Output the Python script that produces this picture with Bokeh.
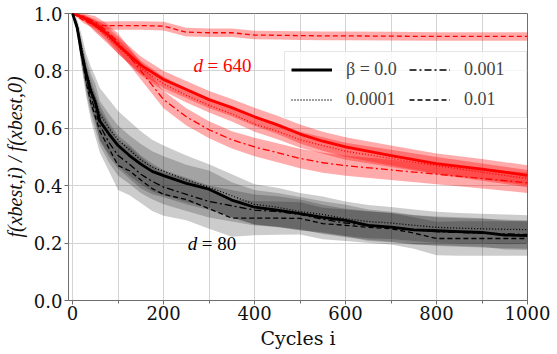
from bokeh.plotting import figure
from bokeh.models import Range1d, FixedTicker, PrintfTickFormatter, Legend, LegendItem, Label
from bokeh.embed import file_html
from bokeh.resources import INLINE

# ---------------- data ----------------
X_R = [0, 25, 50, 75, 100, 150, 200, 250, 300, 350, 400, 450, 500, 550, 600, 700, 800, 900, 1000]
R_SOLID = [1.0, 0.985, 0.96, 0.93, 0.89, 0.82, 0.77, 0.735, 0.70, 0.672, 0.64, 0.612, 0.58, 0.555, 0.535, 0.505, 0.477, 0.458, 0.436]
R_DOT = [1.0, 0.985, 0.955, 0.92, 0.885, 0.81, 0.755, 0.715, 0.68, 0.65, 0.615, 0.59, 0.56, 0.54, 0.52, 0.495, 0.47, 0.447, 0.425]
R_DASHDOT = [1.0, 0.99, 0.97, 0.94, 0.90, 0.80, 0.70, 0.64, 0.595, 0.56, 0.535, 0.515, 0.495, 0.48, 0.47, 0.455, 0.44, 0.425, 0.41]
R_DASH = [1.0, 0.975, 0.96, 0.958, 0.958, 0.958, 0.956, 0.935, 0.933, 0.933, 0.925, 0.924, 0.923, 0.922, 0.922, 0.921, 0.92, 0.92, 0.92]
R_SOLID_SD = [0.0, 0.01, 0.02, 0.025, 0.03, 0.03, 0.03, 0.03, 0.03, 0.03, 0.032, 0.032, 0.033, 0.033, 0.034, 0.035, 0.035, 0.035, 0.035]
R_DOT_SD = [0.0, 0.01, 0.02, 0.022, 0.025, 0.025, 0.025, 0.025, 0.025, 0.026, 0.027, 0.028, 0.028, 0.029, 0.03, 0.03, 0.03, 0.03, 0.03]
R_DASHDOT_SD = [0.0, 0.01, 0.02, 0.025, 0.03, 0.03, 0.03, 0.03, 0.03, 0.03, 0.032, 0.033, 0.034, 0.035, 0.035, 0.035, 0.035, 0.035, 0.035]
R_DASH_SD = [0.0, 0.01, 0.012, 0.014, 0.015, 0.015, 0.015, 0.015, 0.015, 0.015, 0.015, 0.015, 0.015, 0.015, 0.015, 0.015, 0.015, 0.015, 0.015]

X_B = [0, 10, 20, 30, 40, 50, 60, 80, 100, 125, 150, 175, 200, 250, 300, 350, 400, 450, 500, 550, 600, 650, 700, 750, 800, 850, 900, 950, 1000]
B_SOLID = [1.0, 0.95, 0.86, 0.79, 0.73, 0.69, 0.625, 0.58, 0.54, 0.505, 0.475, 0.45, 0.435, 0.408, 0.388, 0.35, 0.325, 0.315, 0.303, 0.29, 0.279, 0.262, 0.256, 0.246, 0.243, 0.24, 0.237, 0.228, 0.226]
B_DOT = [1.0, 0.96, 0.88, 0.80, 0.745, 0.70, 0.65, 0.60, 0.56, 0.525, 0.49, 0.465, 0.45, 0.42, 0.395, 0.365, 0.335, 0.325, 0.31, 0.30, 0.285, 0.275, 0.27, 0.262, 0.255, 0.252, 0.25, 0.248, 0.247]
B_DASHDOT = [1.0, 0.95, 0.86, 0.77, 0.71, 0.66, 0.61, 0.55, 0.505, 0.475, 0.44, 0.415, 0.395, 0.37, 0.345, 0.33, 0.315, 0.31, 0.30, 0.283, 0.27, 0.262, 0.255, 0.247, 0.24, 0.237, 0.235, 0.232, 0.23]
B_DASH = [1.0, 0.95, 0.85, 0.76, 0.69, 0.64, 0.59, 0.53, 0.47, 0.452, 0.42, 0.39, 0.37, 0.352, 0.32, 0.287, 0.287, 0.287, 0.286, 0.268, 0.262, 0.255, 0.25, 0.235, 0.216, 0.216, 0.216, 0.216, 0.216]
B_SOLID_SD = [0.0, 0.02, 0.04, 0.05, 0.06, 0.065, 0.07, 0.07, 0.07, 0.07, 0.07, 0.07, 0.068, 0.065, 0.065, 0.062, 0.06, 0.06, 0.058, 0.056, 0.055, 0.055, 0.053, 0.052, 0.05, 0.05, 0.05, 0.05, 0.05]
B_DOT_SD = [0.0, 0.02, 0.045, 0.06, 0.07, 0.08, 0.09, 0.1, 0.1, 0.1, 0.1, 0.095, 0.09, 0.085, 0.08, 0.075, 0.07, 0.068, 0.065, 0.062, 0.06, 0.058, 0.056, 0.055, 0.054, 0.053, 0.052, 0.052, 0.05]
B_DASHDOT_SD = [0.0, 0.02, 0.04, 0.05, 0.06, 0.065, 0.07, 0.07, 0.07, 0.068, 0.065, 0.062, 0.06, 0.058, 0.056, 0.055, 0.054, 0.053, 0.052, 0.051, 0.05, 0.05, 0.05, 0.05, 0.05, 0.05, 0.05, 0.05, 0.05]
B_DASH_SD = [0.0, 0.02, 0.04, 0.05, 0.06, 0.07, 0.075, 0.08, 0.085, 0.085, 0.08, 0.078, 0.075, 0.072, 0.07, 0.065, 0.06, 0.058, 0.056, 0.055, 0.055, 0.055, 0.055, 0.055, 0.058, 0.06, 0.06, 0.06, 0.06]

BETA_LABELS = ["β = 0.0", "0.0001", "0.001", "0.01"]
X_TICKS = [0, 200, 400, 600, 800, 1000]
X_MINOR = [100, 300, 500, 700, 900]
Y_TICKS = [0.0, 0.2, 0.4, 0.6, 0.8, 1.0]

DASHES = ["solid", "1 2", "7 3 2 3", "5 3"]
WIDTHS = [2.8, 1.3, 1.3, 1.3]

# ---------------- figure ----------------
p = figure(width=557, height=354, output_backend="svg", toolbar_location=None,
           x_range=Range1d(-9, 1000), y_range=Range1d(0, 1.0),
           min_border_left=68, min_border_right=30, min_border_top=13, min_border_bottom=54)
p.background_fill_color = "white"
p.border_fill_color = "white"
p.outline_line_color = "#6e6e6e"
p.outline_line_width = 1

AX = "#6e6e6e"
for ax in (p.xaxis[0], p.yaxis[0]):
    ax.axis_line_color = AX
    ax.major_tick_line_color = AX
    ax.minor_tick_line_color = AX
    ax.major_tick_out = 4
    ax.major_tick_in = 0
    ax.minor_tick_in = 0
    ax.major_label_text_font = "DejaVu Serif"
    ax.major_label_text_font_size = "18px"
    ax.major_label_text_color = "#111111"
    ax.axis_label_text_color = "#111111"
    ax.axis_label_text_font_size = "19px"

p.xaxis.ticker = FixedTicker(ticks=X_TICKS, minor_ticks=X_MINOR)
p.xaxis.minor_tick_out = 3
p.xaxis.major_label_standoff = 1
p.xaxis.axis_label = "Cycles i"
p.xaxis.axis_label_text_font = "DejaVu Serif"
p.xaxis.axis_label_text_font_style = "normal"
p.xaxis.axis_label_standoff = 4

p.yaxis.ticker = FixedTicker(ticks=Y_TICKS, minor_ticks=[])
p.yaxis.minor_tick_out = 0
p.yaxis.major_label_standoff = 2
p.yaxis.formatter = PrintfTickFormatter(format="%.1f")
p.yaxis.axis_label = "f(xbest,i) / f(xbest,0)"
p.yaxis.axis_label_text_font = "Liberation Serif"
p.yaxis.axis_label_text_font_style = "italic"
p.yaxis.axis_label_text_font_size = "20px"
p.yaxis.axis_label_standoff = 5

GRID = "#d3d3d3"
p.xgrid.grid_line_color = GRID
p.xgrid.minor_grid_line_color = GRID
p.ygrid.grid_line_color = GRID
p.xgrid.grid_line_width = 1
p.ygrid.grid_line_width = 1

groups = [
    ("red", X_R, [R_SOLID, R_DOT, R_DASHDOT, R_DASH], [R_SOLID_SD, R_DOT_SD, R_DASHDOT_SD, R_DASH_SD], 0.33),
    ("black", X_B, [B_SOLID, B_DOT, B_DASHDOT, B_DASH], [B_SOLID_SD, B_DOT_SD, B_DASHDOT_SD, B_DASH_SD], 0.2),
]

for color, xs, means, sds, alpha in groups:
    for m, s in zip(means, sds):
        lo = [a - b for a, b in zip(m, s)]
        hi = [a + b for a, b in zip(m, s)]
        p.varea(x=xs, y1=lo, y2=hi, fill_color=color, fill_alpha=alpha)

line_renderers = {}
for color, xs, means, sds, alpha in groups:
    for i, (m, dash, w) in enumerate(zip(means, DASHES, WIDTHS)):
        line_renderers[(color, i)] = p.line(x=xs, y=m, line_color=color, line_width=w, line_dash=dash)

items = [LegendItem(label=lab, renderers=[line_renderers[("black", i)]]) for i, lab in enumerate(BETA_LABELS)]
legend = Legend(items=items, location=(216, 182), ncols=2,
                label_text_font="Liberation Serif", label_text_font_size="18px",
                glyph_width=41, glyph_height=23, label_height=23, label_width=56, label_standoff=14,
                spacing=7, padding=6, margin=0,
                border_line_color="#cccccc", border_line_width=1,
                background_fill_color="white", background_fill_alpha=0.8)
p.add_layout(legend, "center")

# d labels
def dlabel(x, y, num, color):
    p.add_layout(Label(x=x, y=y, text="d", text_font="Liberation Serif", text_font_style="italic",
                       text_font_size="19px", text_color=color, text_baseline="alphabetic"))
    p.add_layout(Label(x=x, y=y, x_offset=14, text="= " + num, text_font="Liberation Serif",
                       text_font_size="19px", text_color=color, text_baseline="alphabetic"))

dlabel(266, 0.819, "640", "red")
dlabel(253, 0.199, "80", "black")

open("out.html", "w").write(file_html(p, INLINE))
